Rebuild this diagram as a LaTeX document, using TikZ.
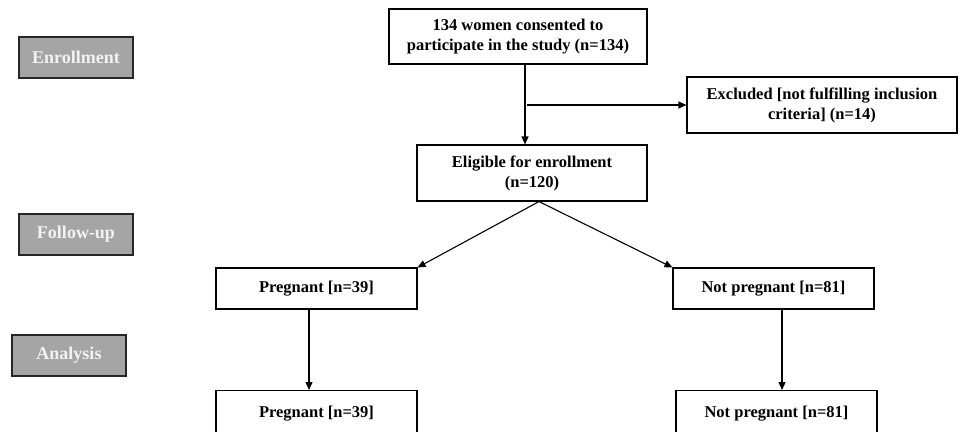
\documentclass[tikz,border=0pt]{standalone}
\usepackage{fontspec}
\setmainfont{Liberation Serif}
\usetikzlibrary{arrows.meta}
\definecolor{stagegray}{HTML}{A5A5A5}
\begin{document}
\begin{tikzpicture}[x=1pt,y=-1pt,
  every node/.style={font=\fontsize{16.5}{20}\selectfont\bfseries},
  stagebox/.style={draw=black!85, line width=1.1pt, fill=stagegray, text=white!95!black, minimum width=114pt, minimum height=41pt, inner sep=0pt, font=\fontsize{18}{20}\selectfont\bfseries},
  flowbox/.style={draw=black, line width=1.1pt, fill=white, align=center, inner sep=0pt},
  arr/.style={line width=1.1pt, -{Triangle[length=8pt,width=7pt]}}
]
\useasboundingbox (0,0) rectangle (960,431);
% stage labels
\node[stagebox] (enr) at (76,57.5) {Enrollment};
\node[stagebox] (fol) at (76,234.5) {Follow-up};
\node[stagebox] (ana) at (69,355.5) {Analysis};
% flow boxes
\node[flowbox, minimum width=258pt, minimum height=55pt] (top) at (518,36.5) {134 women consented to\\participate in the study (n=134)};
\node[flowbox, minimum width=230pt, minimum height=56pt] (elig) at (532,173) {Eligible for enrollment\\(n=120)};
\node[flowbox, minimum width=270pt, minimum height=56pt] (excl) at (822,105) {Excluded [not fulfilling inclusion\\criteria] (n=14)};
\node[flowbox, minimum width=201pt, minimum height=41pt] (preg1) at (316.5,288.5) {Pregnant [n=39]};
\node[flowbox, minimum width=201pt, minimum height=41pt] (notp1) at (773.5,288.5) {Not pregnant [n=81]};
\node[flowbox, minimum width=201pt, minimum height=46pt, anchor=north] (preg2) at (316.5,390) {Pregnant [n=39]};
\node[flowbox, minimum width=201pt, minimum height=46pt, anchor=north] (notp2) at (776.5,390) {Not pregnant [n=81]};
% helper coordinates
\coordinate (v) at (525,0);
\coordinate (apex) at (539,0);
\coordinate (vl) at (309,0);
\coordinate (vr) at (782,0);
% connectors
\draw[arr] (top.south -| v) -- (elig.north -| v);
\draw[arr] ([xshift=2pt]excl.west -| v) -- (excl.west);
\draw[arr] (elig.south -| apex) -- (preg1.north east);
\draw[arr] (elig.south -| apex) -- (notp1.north west);
\draw[arr] (preg1.south -| vl) -- (preg2.north -| vl);
\draw[arr] (notp1.south -| vr) -- (notp2.north -| vr);
\end{tikzpicture}
\end{document}
